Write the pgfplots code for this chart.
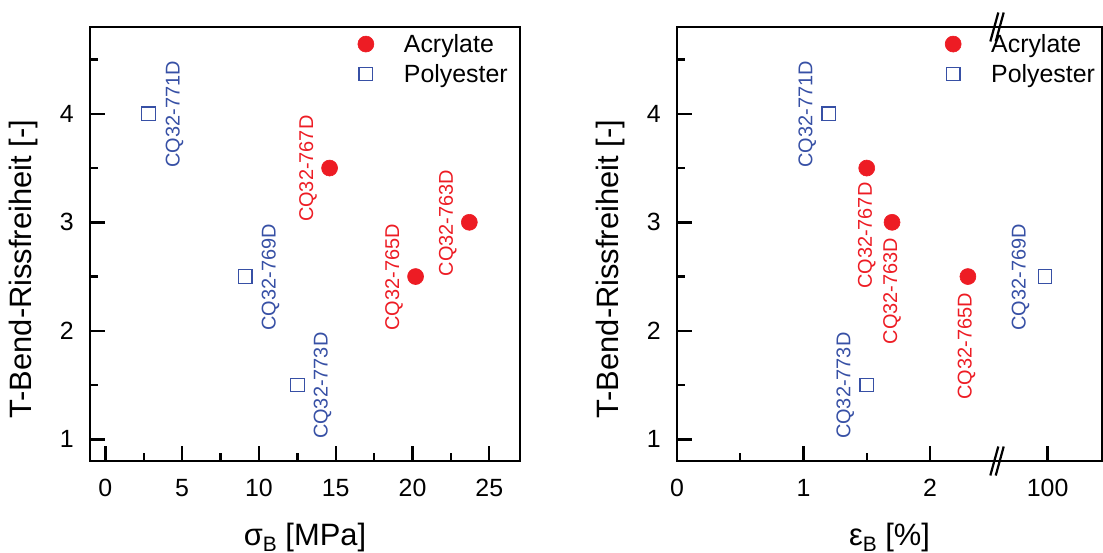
\documentclass[border=0pt]{standalone}
\usepackage{fontspec}
\setmainfont{Liberation Sans}
\usepackage{pgfplots}
\pgfplotsset{compat=1.18}

\definecolor{acrred}{RGB}{237,28,36}
\definecolor{polblue}{RGB}{55,80,165}

\tikzset{lbl/.style={rotate=90, inner sep=0pt, font=\fontsize{10}{12}\selectfont},
  brk/.style={line width=1.1bp}}

\pgfplotsset{
  panel/.style={
    scale only axis, height=217bp,
    ymin=0.8, ymax=4.8, ytick={1,2,3,4}, minor ytick={1.5,2.5,3.5,4.5},
    axis line style={line width=1.4bp},
    every tick/.style={black, line width=1.2bp},
    major tick length=7.5bp, minor tick length=3.8bp,
    tick align=inside, xtick pos=bottom, ytick pos=left,
    tick label style={font=\fontsize{12.5}{14}\selectfont, inner sep=0pt},
    /pgf/number format/assume math mode=true,
    xticklabel style={yshift=-9bp},
    yticklabel style={xshift=-8bp},
    every axis y label/.style={at={([xshift=-33bp]rel axis cs:0,0.442)},
      rotate=90, anchor=center, font=\fontsize{15.5}{18}\selectfont},
    every axis x label/.style={at={([yshift=-42bp]rel axis cs:0.5,0)},
      anchor=base, font=\fontsize{15.5}{18}\selectfont},
    ylabel={T-Bend-Rissfreiheit [-]},
    clip=false,
    legend cell align=left,
    legend style={draw=none, fill=none, inner sep=0pt, outer sep=0pt,
      anchor=north west, font=\fontsize{12.5}{15}\selectfont,
      nodes={inner sep=0pt, anchor=base west}, row sep=4.5bp, column sep=15bp},
  },
  acr/.style={only marks, mark=*, mark size=4bp, color=acrred,
    mark options={fill=acrred, draw=acrred, line width=0.3bp},
    legend image code/.code={\draw[##1] plot coordinates {(0bp,4.4bp)};}},
  pol/.style={only marks, mark=square, mark size=3.4bp, color=polblue,
    mark options={draw=polblue, line width=0.6bp},
    legend image code/.code={\draw[##1] plot coordinates {(0bp,4.4bp)};}},
}

\begin{document}
\begin{tikzpicture}
\path[use as bounding box] (0,0) rectangle (551.5bp,276.5bp);

% tensile strength panel
\begin{axis}[panel, at={(45bp,46bp)}, anchor=south west, width=215bp,
  xmin=-1, xmax=27, xtick={0,5,...,25}, minor xtick={2.5,7.5,...,22.5},
  xlabel={σ\raisebox{-0.4ex}{\fontsize{10.5}{12}\selectfont B} [MPa]},
  legend style={at={(0.623,0.982)}}]
\addplot+[acr] coordinates {(14.6,3.5) (20.2,2.5) (23.7,3.0)};
\addlegendentry{Acrylate}
\addplot+[pol] coordinates {(2.8,4.0) (9.1,2.5) (12.5,1.5)};
\addlegendentry{Polyester}
\node[lbl, text=polblue, anchor=west] at (axis cs:4.5,3.5)   {CQ32-771D};
\node[lbl, text=polblue, anchor=west] at (axis cs:10.75,2.0) {CQ32-769D};
\node[lbl, text=polblue, anchor=west] at (axis cs:14.15,1.0) {CQ32-773D};
\node[lbl, text=acrred, anchor=west]  at (axis cs:13.2,3.0)  {CQ32-767D};
\node[lbl, text=acrred, anchor=west]  at (axis cs:18.8,2.0)  {CQ32-765D};
\node[lbl, text=acrred, anchor=west]  at (axis cs:22.3,2.5)  {CQ32-763D};
\end{axis}

% elongation panel, broken x axis: values above 50 go to the segment after the break
\begin{axis}[panel, at={(338.5bp,46bp)}, anchor=south west, width=212.5bp,
  x coord trafo/.code={\pgfmathparse{(#1>50)?(2.5+(#1-90)*0.043):(#1)}},
  x coord inv trafo/.code={\pgfmathparse{(#1>2.5)?(90+(#1-2.5)/0.043):(#1)}},
  xmin=0, xmax=110, xtick={0,1,2,100}, xticklabels={0,1,2,100},
  minor xtick={0.5,1.5},
  xlabel={ε\raisebox{-0.4ex}{\fontsize{10.5}{12}\selectfont B} [\%]},
  legend style={at={(0.631,0.982)}}]
\addplot+[acr] coordinates {(1.5,3.5) (1.7,3.0) (2.3,2.5)};
\addlegendentry{Acrylate}
\addplot+[pol] coordinates {(1.2,4.0) (1.5,1.5) (99.5,2.5)};
\addlegendentry{Polyester}
\node[lbl, text=polblue, anchor=west] at (axis cs:1.03,3.5) {CQ32-771D};
\node[lbl, text=polblue, anchor=west] at (axis cs:95,2.0)   {CQ32-769D};
\node[lbl, text=polblue, anchor=west] at (axis cs:1.33,1.0) {CQ32-773D};
\node[lbl, text=acrred, anchor=east]  at (axis cs:1.5,3.37) {CQ32-767D};
\node[lbl, text=acrred, anchor=east]  at (axis cs:1.7,2.86) {CQ32-763D};
\node[lbl, text=acrred, anchor=east]  at (axis cs:2.29,2.35) {CQ32-765D};
% break marks on the x axis
\draw[brk] ([xshift=-3.35bp,yshift=-7.25bp]axis cs:2.53,0.8) -- ++(4bp,14.5bp);
\draw[brk] ([xshift=-0.65bp,yshift=-7.25bp]axis cs:2.53,0.8) -- ++(4bp,14.5bp);
\draw[brk] ([xshift=-3.35bp,yshift=-7.25bp]axis cs:2.53,4.8) -- ++(4bp,14.5bp);
\draw[brk] ([xshift=-0.65bp,yshift=-7.25bp]axis cs:2.53,4.8) -- ++(4bp,14.5bp);
\end{axis}
\end{tikzpicture}
\end{document}
